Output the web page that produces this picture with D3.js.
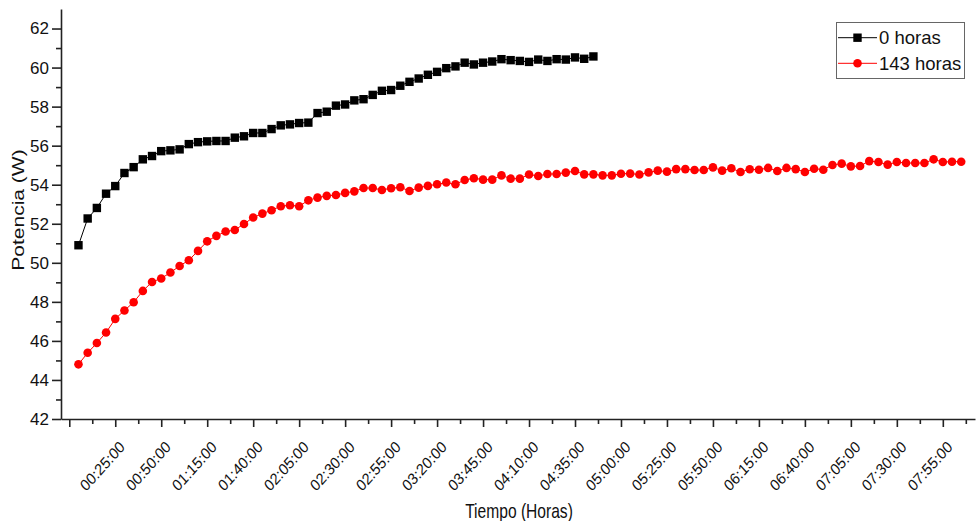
<!DOCTYPE html>
<html>
<head>
<meta charset="utf-8">
<script src="https://cdn.jsdelivr.net/npm/d3@7"></script>
<style>
  html, body { margin: 0; padding: 0; background: #fff; }
  svg { display: block; }
  text { font-family: "Liberation Sans", Arial, Helvetica, sans-serif; fill: #111; }
</style>
</head>
<body>
<svg id="chart" width="977" height="521"></svg>
<script>
// Sampling times, in minutes from the start of the test
const minutes = [
  5, 10, 15, 20, 25, 30, 35, 40, 45, 50, 55, 60, 65, 70, 75, 80, 85, 90, 95, 100,
  105, 110, 115, 120, 125, 130, 135, 140, 145, 150, 155, 160, 165, 170, 175, 180, 185, 190, 195, 200,
  205, 210, 215, 220, 225, 230, 235, 240, 245, 250, 255, 260, 265, 270, 275, 280, 285, 290, 295, 300,
  305, 310, 315, 320, 325, 330, 335, 340, 345, 350, 355, 360, 365, 370, 375, 380, 385, 390, 395, 400,
  405, 410, 415, 420, 425, 430, 435, 440, 445, 450, 455, 460, 465, 470, 475, 480, 485
];

// Power (W) after 0 hours
const power0h = [
  50.90, 52.27, 52.81, 53.54, 53.93, 54.60, 54.90, 55.30, 55.47, 55.72,
  55.76, 55.81, 56.08, 56.18, 56.22, 56.24, 56.24, 56.41, 56.48, 56.65,
  56.65, 56.85, 57.04, 57.09, 57.16, 57.18, 57.67, 57.74, 58.05, 58.11,
  58.32, 58.38, 58.60, 58.81, 58.85, 59.07, 59.27, 59.44, 59.63, 59.78,
  59.97, 60.06, 60.25, 60.16, 60.25, 60.31, 60.43, 60.38, 60.34, 60.29,
  60.41, 60.34, 60.43, 60.41, 60.52, 60.45, 60.57
];

// Power (W) after 143 hours
const power143h = [
  44.80, 45.39, 45.89, 46.43, 47.13, 47.56, 47.98, 48.56, 49.02, 49.20,
  49.50, 49.84, 50.13, 50.61, 51.10, 51.38, 51.60, 51.68, 51.99, 52.32,
  52.52, 52.69, 52.90, 52.95, 52.90, 53.20, 53.34, 53.43, 53.47, 53.58,
  53.66, 53.83, 53.83, 53.73, 53.82, 53.87, 53.68, 53.85, 53.94, 54.02,
  54.11, 54.02, 54.24, 54.33, 54.26, 54.26, 54.48, 54.31, 54.31, 54.52,
  54.45, 54.55, 54.55, 54.62, 54.70, 54.53, 54.53, 54.48, 54.48, 54.56,
  54.57, 54.52, 54.63, 54.72, 54.67, 54.80, 54.80, 54.75, 54.75, 54.89,
  54.72, 54.84, 54.65, 54.79, 54.77, 54.86, 54.70, 54.86, 54.80, 54.65,
  54.82, 54.77, 55.01, 55.08, 54.94, 54.96, 55.21, 55.16, 55.03, 55.16,
  55.11, 55.11, 55.11, 55.30, 55.16, 55.18, 55.18
];

const seriesNames = ["0 horas", "143 horas"];

// Axis ticks (x in minutes)
const xMajorTicks = [0, 25, 50, 75, 100, 125, 150, 175, 200, 225, 250, 275, 300, 325, 350, 375, 400, 425, 450, 475];
const xTickLabels = ["", "00:25:00", "00:50:00", "01:15:00", "01:40:00", "02:05:00", "02:30:00", "02:55:00",
  "03:20:00", "03:45:00", "04:10:00", "04:35:00", "05:00:00", "05:25:00", "05:50:00", "06:15:00",
  "06:40:00", "07:05:00", "07:30:00", "07:55:00"];
const xMinorTicks = [12.5, 37.5, 62.5, 87.5, 112.5, 137.5, 162.5, 187.5, 212.5, 237.5, 262.5, 287.5,
  312.5, 337.5, 362.5, 387.5, 412.5, 437.5, 462.5, 487.5];
const yMajorTicks = [42, 44, 46, 48, 50, 52, 54, 56, 58, 60, 62];
const yMinorTicks = [43, 45, 47, 49, 51, 53, 55, 57, 59, 61];

(function draw() {
  const svg = d3.select("#chart");

  const plotLeft = 61, plotRight = 975, plotTop = 9, plotBottom = 419;

  const x = d3.scaleLinear().domain([-4.5, 492.5]).range([plotLeft, plotRight]);
  const y = d3.scaleLinear().domain([42, 63]).range([plotBottom, plotTop]);

  // Minor ticks
  svg.append("g")
    .attr("transform", `translate(0,${plotBottom})`)
    .call(d3.axisBottom(x).tickValues(xMinorTicks).tickSize(5).tickFormat(""))
    .call(g => g.select(".domain").remove())
    .call(g => g.selectAll("line").attr("stroke", "#222").attr("stroke-width", 1.6));

  svg.append("g")
    .attr("transform", `translate(${plotLeft},0)`)
    .call(d3.axisLeft(y).tickValues(yMinorTicks).tickSize(5).tickFormat(""))
    .call(g => g.select(".domain").remove())
    .call(g => g.selectAll("line").attr("stroke", "#222").attr("stroke-width", 1.6));

  // Bottom axis with rotated time labels
  const xAxis = svg.append("g")
    .attr("transform", `translate(0,${plotBottom})`)
    .call(d3.axisBottom(x)
      .tickValues(xMajorTicks)
      .tickSize(8)
      .tickSizeOuter(0)
      .tickFormat((d, i) => xTickLabels[i]));
  xAxis.select(".domain").attr("stroke", "#222").attr("stroke-width", 1.6);
  xAxis.selectAll("line").attr("stroke", "#222").attr("stroke-width", 1.6);
  xAxis.selectAll("text")
    .attr("x", 0).attr("y", 0).attr("dy", null)
    .attr("text-anchor", "end")
    .attr("transform", "translate(10,29) scale(0.9,1) rotate(-45)")
    .style("font-size", "16px")
    .attr("fill", "#111");

  // Left axis
  const yAxis = svg.append("g")
    .attr("transform", `translate(${plotLeft},0)`)
    .call(d3.axisLeft(y)
      .tickValues(yMajorTicks)
      .tickSize(9)
      .tickSizeOuter(0)
      .tickPadding(3)
      .tickFormat(d3.format("d")));
  yAxis.select(".domain").attr("stroke", "#222").attr("stroke-width", 1.6);
  yAxis.selectAll("line").attr("stroke", "#222").attr("stroke-width", 1.6);
  yAxis.selectAll("text").style("font-size", "17px").attr("fill", "#111");

  // Axis titles (narrow lettering)
  svg.append("text")
    .attr("transform", `translate(${(plotLeft + plotRight) / 2 + 1},518) scale(0.78,1)`)
    .attr("text-anchor", "middle")
    .style("font-size", "20px")
    .text("Tiempo (Horas)");

  svg.append("text")
    .attr("transform", "translate(23.5,210) scale(0.8,1) rotate(-90)")
    .attr("text-anchor", "middle")
    .style("font-size", "21px")
    .text("Potencia (W)");

  // Series
  const data0 = power0h.map((v, i) => ({ t: minutes[i], v }));
  const data143 = power143h.map((v, i) => ({ t: minutes[i], v }));

  const line = d3.line().x(d => x(d.t)).y(d => y(d.v));
  const rad = 4.3;
  const sq = 8.4;

  svg.append("path").datum(data143)
    .attr("fill", "none").attr("stroke", "#ff0000").attr("stroke-width", 1)
    .attr("d", line);
  svg.append("g").selectAll("circle").data(data143).join("circle")
    .attr("cx", d => x(d.t)).attr("cy", d => y(d.v)).attr("r", rad)
    .attr("fill", "#ff0000");

  svg.append("path").datum(data0)
    .attr("fill", "none").attr("stroke", "#000").attr("stroke-width", 1)
    .attr("d", line);
  svg.append("g").selectAll("rect").data(data0).join("rect")
    .attr("x", d => x(d.t) - sq / 2).attr("y", d => y(d.v) - sq / 2)
    .attr("width", sq).attr("height", sq)
    .attr("fill", "#000");

  // Legend
  const legend = svg.append("g");
  legend.append("rect")
    .attr("x", 836.5).attr("y", 22.5).attr("width", 128).attr("height", 56)
    .attr("fill", "#fff").attr("stroke", "#666").attr("stroke-width", 1);

  const rows = [
    { name: seriesNames[0], color: "#000", shape: "square", cy: 37.7 },
    { name: seriesNames[1], color: "#ff0000", shape: "circle", cy: 63.3 }
  ];
  rows.forEach(r => {
    legend.append("line")
      .attr("x1", 838).attr("x2", 877).attr("y1", r.cy).attr("y2", r.cy)
      .attr("stroke", r.color).attr("stroke-width", 1);
    if (r.shape === "square") {
      legend.append("rect")
        .attr("x", 857.5 - sq / 2).attr("y", r.cy - sq / 2)
        .attr("width", sq).attr("height", sq).attr("fill", r.color);
    } else {
      legend.append("circle").attr("cx", 857.5).attr("cy", r.cy).attr("r", rad).attr("fill", r.color);
    }
    legend.append("text")
      .attr("x", 879).attr("y", r.cy + 6.5)
      .style("font-size", "18.5px")
      .text(r.name);
  });
})();
</script>
</body>
</html>
